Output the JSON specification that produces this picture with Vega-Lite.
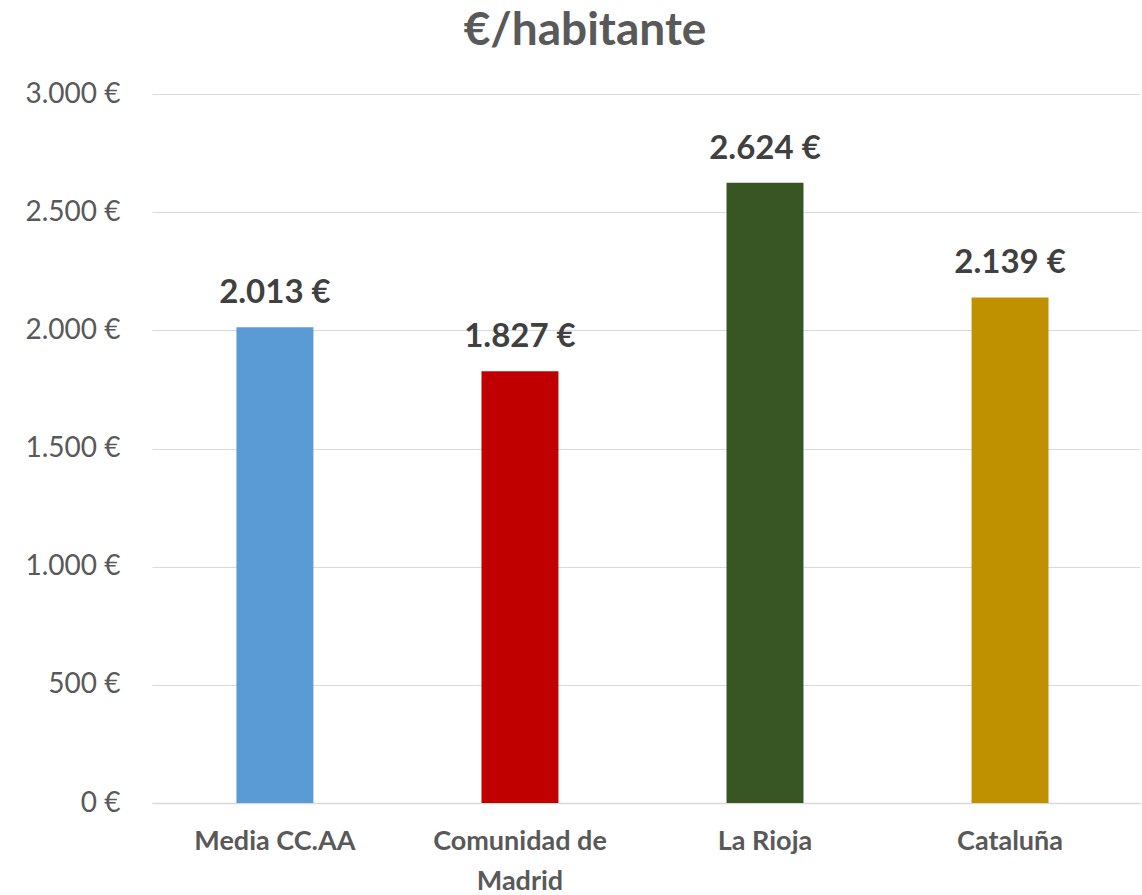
{
  "$schema": "https://vega.github.io/schema/vega-lite/v6.json",
  "width": 988,
  "height": 709,
  "autosize": {"type": "none"},
  "padding": {"left": 152, "top": 94, "right": 2, "bottom": 92},
  "background": "white",
  "config": {
    "view": {"stroke": null},
    "font": "Lato",
    "locale": {
      "number": {"decimal": ",", "thousands": ".", "grouping": [3], "currency": ["", " €"]}
    }
  },
  "title": {
    "text": "€/habitante",
    "fontSize": 46,
    "fontWeight": "bold",
    "color": "#595959",
    "font": "Lato",
    "anchor": "middle",
    "dx": -61,
    "offset": 25
  },
  "data": {
    "values": [
      {"region": "Media CC.AA", "value": 2013, "color": "#5B9BD5"},
      {"region": "Comunidad de Madrid", "value": 1827, "color": "#C00000"},
      {"region": "La Rioja", "value": 2624, "color": "#375623"},
      {"region": "Cataluña", "value": 2139, "color": "#BF9000"}
    ]
  },
  "encoding": {
    "x": {
      "field": "region",
      "type": "nominal",
      "sort": null,
      "scale": {"paddingInner": 0.686, "paddingOuter": 0.359, "align": 0.48},
      "axis": {
        "title": null,
        "labelAngle": 0,
        "labelFontSize": 27,
        "labelFontWeight": "bold",
        "labelColor": "#595959",
        "labelPadding": 25,
        "labelLineHeight": 40,
        "ticks": false,
        "domain": true,
        "domainColor": "#d9d9d9",
        "domainWidth": 1.5,
        "labelExpr": "datum.label == 'Comunidad de Madrid' ? ['Comunidad de', 'Madrid'] : datum.label"
      }
    },
    "y": {
      "field": "value",
      "type": "quantitative",
      "scale": {"domain": [0, 3000], "nice": false},
      "axis": {
        "title": null,
        "values": [0, 500, 1000, 1500, 2000, 2500, 3000],
        "format": "$,.0f",
        "labelFontSize": 28,
        "labelColor": "#595959",
        "labelPadding": 32,
        "ticks": false,
        "domain": false,
        "gridColor": "#d9d9d9",
        "gridWidth": 1
      }
    }
  },
  "layer": [
    {
      "mark": {"type": "bar"},
      "encoding": {
        "color": {"field": "color", "type": "nominal", "scale": null}
      }
    },
    {
      "mark": {"type": "text", "baseline": "bottom", "dy": -17, "fontSize": 33, "fontWeight": "bold", "color": "#404040"},
      "encoding": {
        "text": {"field": "value", "type": "quantitative", "format": "$,.0f"}
      }
    }
  ]
}
